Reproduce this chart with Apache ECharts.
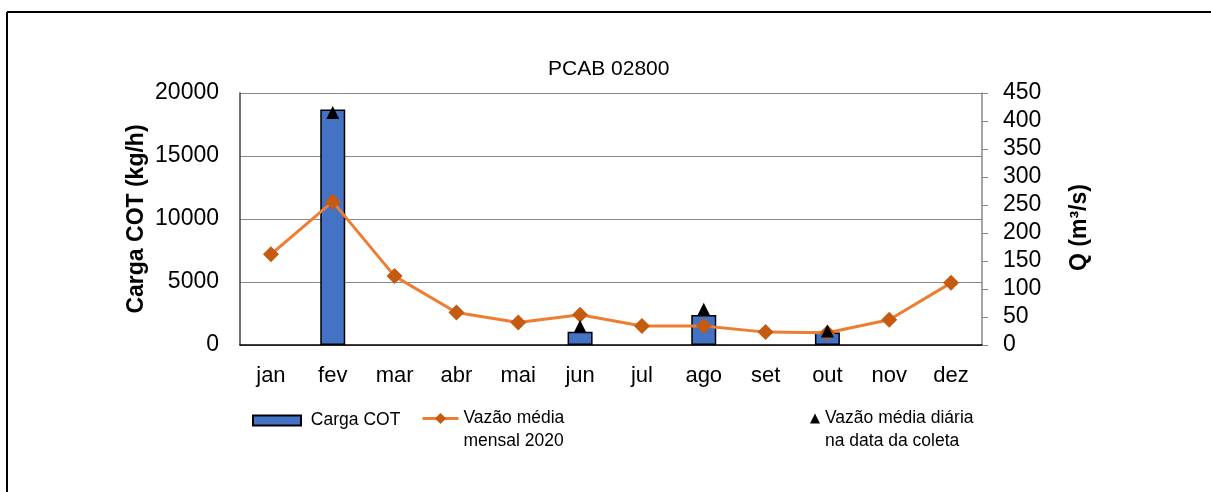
<!DOCTYPE html>
<html>
<head>
<meta charset="utf-8">
<script src="https://cdn.jsdelivr.net/npm/echarts@6/dist/echarts.min.js"></script>
<style>
  html, body { margin: 0; padding: 0; background: #fff; }
  #main { width: 1211px; height: 492px; }
</style>
</head>
<body>
<div id="main"></div>
<script>
// dados
var meses = ['jan', 'fev', 'mar', 'abr', 'mai', 'jun', 'jul', 'ago', 'set', 'out', 'nov', 'dez'];
var cargaCOT = [null, 18700, null, null, null, 1050, null, 2380, null, 1000, null, null];
var vazaoMensal = [162, 256, 123, 58, 40, 54, 34, 34, 23, 22, 45, 111];
var vazaoDiaria = [null, 415, null, null, null, 33, null, 64, null, 25, null, null];

var fonte = 'Liberation Sans, Arial, sans-serif';
var myChart = echarts.init(document.getElementById('main'));

var legendaTexto = { fontFamily: fonte, fontSize: 17.5, color: '#000', lineHeight: 23 };
// linha vazia antes do texto: o ícone fica alinhado com a primeira linha
var duasLinhas = function (name) { return '\n' + name; };

var option = {
    animation: false,
    textStyle: { fontFamily: fonte, color: '#000' },
    title: {
        text: 'PCAB 02800',
        left: 543,
        top: 54,
        textStyle: { fontFamily: fonte, fontSize: 21, fontWeight: 'normal', color: '#000' }
    },
    graphic: [
        { type: 'line', shape: { x1: 7, y1: 12, x2: 1211, y2: 12 }, style: { stroke: '#000', lineWidth: 2 } },
        { type: 'line', shape: { x1: 7, y1: 12, x2: 7, y2: 492 }, style: { stroke: '#000', lineWidth: 2 } }
    ],
    grid: { left: 240, right: 229, top: 93, bottom: 147 },
    legend: [
        {
            left: 252, top: 409, padding: 0, itemWidth: 48, itemHeight: 10,
            textStyle: legendaTexto,
            formatter: function (name) { return ' ' + name; },
            data: [{ name: 'Carga COT', icon: 'rect' }]
        },
        {
            left: 421, top: 384, padding: 0, itemWidth: 36, itemHeight: 14,
            textStyle: legendaTexto,
            lineStyle: { width: 3 },
            formatter: duasLinhas,
            data: ['Vazão média\nmensal 2020']
        },
        {
            left: 810, top: 384, padding: 0, itemWidth: 10, itemHeight: 10,
            textStyle: legendaTexto,
            formatter: duasLinhas,
            data: [{ name: 'Vazão média diária\nna data da coleta', icon: 'triangle' }]
        }
    ],
    xAxis: {
        type: 'category',
        data: meses,
        axisTick: { show: false },
        axisLine: { lineStyle: { color: '#000', width: 1.5 } },
        axisLabel: { fontFamily: fonte, fontSize: 22, color: '#000', margin: 20 }
    },
    yAxis: [
        {
            type: 'value',
            min: 0, max: 20000, interval: 5000,
            name: 'Carga COT (kg/h)',
            nameLocation: 'middle',
            nameRotate: 90,
            nameGap: 92,
            nameMoveOverlap: false,
            nameTextStyle: { fontFamily: fonte, fontSize: 23, fontWeight: 'bold', color: '#000' },
            axisLine: { show: true, lineStyle: { color: '#404040', width: 1.5 } },
            axisTick: { show: false },
            axisLabel: { fontFamily: fonte, fontSize: 23, color: '#000', margin: 21, formatter: function (v) { return String(v); } },
            splitLine: { lineStyle: { color: '#888', width: 1 } }
        },
        {
            type: 'value',
            min: 0, max: 450, interval: 50,
            name: 'Q (m³/s)',
            nameLocation: 'middle',
            nameRotate: 90,
            nameGap: 86,
            nameTextStyle: { fontFamily: fonte, fontSize: 23, fontWeight: 'bold', color: '#000', padding: [0, 17, 0, 0] },
            axisLine: { show: true, lineStyle: { color: '#888', width: 1.5 } },
            axisTick: { show: true, inside: false, length: 6, lineStyle: { color: '#888' } },
            axisLabel: { fontFamily: fonte, fontSize: 23, color: '#000', margin: 21, formatter: function (v) { return String(v); } },
            splitLine: { show: false }
        }
    ],
    series: [
        {
            name: 'Carga COT',
            type: 'bar',
            yAxisIndex: 0,
            data: cargaCOT,
            barWidth: 25,
            itemStyle: { color: '#4472C4', borderColor: '#000', borderWidth: 1.5 }
        },
        {
            name: 'Vazão média\nmensal 2020',
            type: 'line',
            yAxisIndex: 1,
            data: vazaoMensal,
            symbol: 'diamond',
            symbolSize: 16,
            lineStyle: { color: '#ED7D31', width: 3 },
            itemStyle: { color: '#C55A11' },
            z: 3
        },
        {
            name: 'Vazão média diária\nna data da coleta',
            type: 'scatter',
            yAxisIndex: 1,
            data: vazaoDiaria,
            symbol: 'triangle',
            symbolSize: 13,
            itemStyle: { color: '#000', opacity: 1 },
            z: 4
        }
    ]
};

myChart.setOption(option);
</script>
</body>
</html>
